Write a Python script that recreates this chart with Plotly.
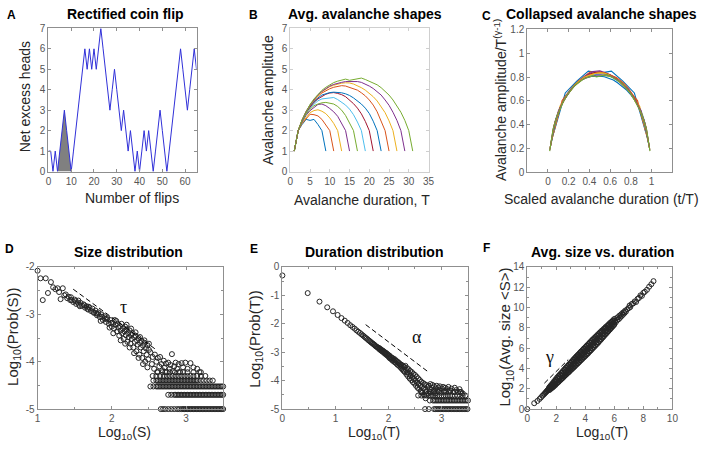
import plotly.graph_objects as go

# ---------------- data ----------------
# A: rectified coin flip
flip_number = list(range(66))
net_excess_heads = [1, 1, 0, 1, 0, 1, 2, 3, 2, 1, 0, 1, 2, 3, 4, 5, 6, 5, 6, 5, 6, 5, 6, 7, 6, 5,
                    4, 3, 4, 5, 4, 3, 2, 3, 2, 1, 2, 1, 0, 1, 0, 1, 2, 1, 2, 1, 0, 1, 2, 3, 2, 1,
                    0, 1, 2, 3, 4, 5, 6, 5, 4, 3, 4, 5, 6, 5]
shaded_start, shaded_end = 4, 10

# B: average avalanche shapes (amplitude at t = 1..T)
shape_T9 = [1, 2, 2.3, 2.55, 2.5, 2.55, 2.3, 2, 1]
shape_T11 = [1, 2, 2.35, 2.6, 2.8, 2.78, 2.72, 2.55, 2.3, 2, 1]
shape_T13 = [1, 2, 2.38, 2.66, 2.88, 2.98, 3.02, 2.95, 2.83, 2.62, 2.35, 2, 1]
shape_T15 = [1, 2, 2.42, 2.75, 2.98, 3.15, 3.28, 3.3, 3.22, 3.08, 2.92, 2.7, 2.38, 2, 1]
shape_T17 = [1, 2, 2.45, 2.8, 3.05, 3.22, 3.3, 3.36, 3.38, 3.35, 3.3, 3.18, 3.0, 2.74, 2.4, 2, 1]
shape_T19 = [1, 2, 2.48, 2.85, 3.12, 3.3, 3.46, 3.55, 3.58, 3.6, 3.62, 3.52, 3.4, 3.25, 3.05, 2.78,
             2.42, 2, 1]
shape_T21 = [1, 2, 2.5, 2.88, 3.15, 3.38, 3.55, 3.68, 3.78, 3.84, 3.86, 3.82, 3.76, 3.66, 3.5, 3.32,
             3.1, 2.82, 2.45, 2, 1]
shape_T23 = [1, 2, 2.5, 2.9, 3.2, 3.42, 3.6, 3.74, 3.82, 3.86, 3.88, 3.87, 3.85, 3.8, 3.72, 3.6,
             3.46, 3.3, 3.1, 2.84, 2.46, 2, 1]
shape_T25 = [1, 2, 2.52, 2.92, 3.22, 3.47, 3.68, 3.84, 3.96, 4.05, 4.12, 4.16, 4.2, 4.18, 4.12, 4.06,
             3.98, 3.85, 3.7, 3.5, 3.25, 2.92, 2.5, 2, 1]
shape_T27 = [1, 2, 2.52, 2.93, 3.25, 3.5, 3.72, 3.9, 4.04, 4.15, 4.22, 4.28, 4.32, 4.34, 4.33, 4.28,
             4.2, 4.1, 3.98, 3.84, 3.66, 3.45, 3.18, 2.88, 2.48, 2, 1]
shape_T29 = [1, 2, 2.52, 2.94, 3.26, 3.52, 3.75, 3.92, 4.06, 4.18, 4.26, 4.32, 4.36, 4.4, 4.41, 4.42,
             4.4, 4.36, 4.28, 4.18, 4.06, 3.92, 3.74, 3.5, 3.24, 2.9, 2.5, 2, 1]
shape_T31 = [1, 2, 2.54, 2.95, 3.28, 3.55, 3.78, 3.97, 4.12, 4.25, 4.35, 4.42, 4.48, 4.52, 4.46, 4.5,
             4.56, 4.57, 4.5, 4.42, 4.34, 4.24, 4.1, 3.94, 3.74, 3.5, 3.22, 2.9, 2.5, 2, 1]
avalanche_shapes = [shape_T9, shape_T11, shape_T13, shape_T15, shape_T17, shape_T19,
                    shape_T21, shape_T23, shape_T25, shape_T27, shape_T29, shape_T31]
gamma_exponent = 1.5  # C: collapse by T^(gamma-1)

# D: size distribution (log10 S, log10 P)
d_head = [(1.00, -2.08), (1.04, -2.24), (1.11, -2.24), (1.07, -2.70), (1.18, -2.32), (1.14, -2.55),
          (1.21, -2.43), (1.24, -2.47), (1.27, -2.45), (1.29, -2.53), (1.31, -2.68), (1.34, -2.45),
          (1.36, -2.60), (1.38, -2.58), (1.40, -2.66), (1.42, -2.63), (1.44, -2.70), (1.45, -2.64)]
d_band = [(1.46, -2.70), (1.48, -2.74), (1.50, -2.69), (1.51, -2.72), (1.52, -2.78), (1.54, -2.75),
          (1.55, -2.71), (1.56, -2.80), (1.57, -2.83), (1.58, -2.76), (1.60, -2.82), (1.62, -2.79),
          (1.63, -2.81), (1.64, -2.86), (1.66, -2.83), (1.67, -2.88), (1.68, -2.90), (1.69, -2.84),
          (1.70, -2.86), (1.72, -2.93), (1.74, -2.88), (1.75, -2.95), (1.76, -2.97), (1.78, -2.92),
          (1.79, -2.98), (1.80, -3.02), (1.81, -2.99), (1.82, -2.96), (1.84, -3.06), (1.85, -3.14),
          (1.86, -3.00), (1.87, -3.05), (1.88, -3.12), (1.90, -3.04), (1.91, -3.09), (1.92, -3.16),
          (1.93, -3.10), (1.94, -3.08), (1.96, -3.20), (1.97, -3.28), (1.98, -3.12), (1.99, -3.18),
          (2.00, -3.26), (2.01, -3.18), (2.02, -3.40), (2.03, -3.30), (2.04, -3.12), (2.05, -3.22),
          (2.06, -3.14), (2.07, -3.36), (2.08, -3.20), (2.09, -3.28), (2.10, -3.45), (2.11, -3.25),
          (2.12, -3.34), (2.12, -3.55), (2.13, -3.20), (2.14, -3.40), (2.15, -3.30), (2.16, -3.52),
          (2.17, -3.36), (2.18, -3.26), (2.18, -3.62), (2.19, -3.44), (2.20, -3.32), (2.20, -3.22),
          (2.21, -3.58), (2.22, -3.40), (2.23, -3.48), (2.24, -3.34), (2.24, -3.70), (2.25, -3.62),
          (2.26, -3.44), (2.26, -3.30), (2.27, -3.52), (2.28, -3.40), (2.29, -3.70), (2.30, -3.48),
          (2.30, -3.82), (2.31, -3.58), (2.32, -3.45), (2.32, -3.38), (2.33, -3.78), (2.34, -3.55),
          (2.35, -3.64), (2.36, -3.50), (2.36, -3.92), (2.37, -3.85), (2.38, -3.60), (2.38, -3.48),
          (2.39, -3.70), (2.40, -3.56), (2.41, -3.92), (2.42, -3.66), (2.42, -4.05), (2.43, -3.78),
          (2.44, -3.60), (2.44, -3.55), (2.45, -4.00), (2.46, -3.72), (2.47, -3.85), (2.48, -3.65),
          (2.48, -4.12), (2.49, -3.95), (2.50, -3.75), (2.50, -3.62)]
d_tail = [(2.52, -3.80), (2.54, -4.05), (2.55, -3.90), (2.57, -4.15), (2.58, -3.85), (2.60, -4.00),
          (2.61, -4.22), (2.62, -3.92), (2.64, -4.10), (2.65, -3.90), (2.67, -4.05), (2.68, -4.18),
          (2.70, -3.98), (2.71, -4.12), (2.73, -4.04), (2.74, -4.22), (2.76, -4.02), (2.78, -4.15),
          (2.79, -4.07), (2.81, -3.84), (2.82, -4.20), (2.84, -4.10), (2.86, -4.02), (2.88, -4.15),
          (2.90, -4.05), (2.92, -4.22), (2.94, -4.03), (2.96, -4.12), (2.99, -4.02), (3.02, -4.15),
          (3.06, -4.03), (3.10, -4.12), (3.15, -4.15), (3.18, -4.22)]
d_row_levels = [-4.222, -4.301, -4.398, -4.523, -4.699, -5.0]
d_row6_x = [2.62, 2.68, 2.72, 2.78, 2.85, 2.90, 2.96, 3.02, 3.10, 3.20]
d_row5_x = [2.55, 2.60, 2.65, 2.70, 2.74, 2.78, 2.82, 2.86, 2.90, 2.94, 2.98, 3.02, 3.06, 3.10,
            3.15, 3.20, 3.26]
d_row4_x = [2.56, 2.60, 2.62, 2.64, 2.66, 2.68, 2.70, 2.72, 2.74, 2.76, 2.78, 2.80, 2.82, 2.84,
            2.86, 2.88, 2.90, 2.92, 2.94, 2.96, 2.98, 3.00, 3.02, 3.04, 3.06, 3.08, 3.10, 3.12,
            3.14, 3.16, 3.20, 3.24, 3.28, 3.32, 3.36]
d_row3_x = [2.52, 2.56, 2.60, 2.62, 2.64, 2.66, 2.68, 2.70, 2.72, 2.74, 2.76, 2.78, 2.80, 2.82,
            2.84, 2.86, 2.88, 2.90, 2.92, 2.94, 2.96, 2.98, 3.00, 3.02, 3.04, 3.06, 3.08, 3.10,
            3.12, 3.14, 3.16, 3.18, 3.20, 3.22, 3.24, 3.26, 3.28, 3.30, 3.32, 3.34, 3.36, 3.38,
            3.40, 3.42, 3.44, 3.46, 3.48, 3.50]
d_row2_x = [2.76, 2.80, 2.84, 2.86, 2.88, 2.90, 2.92, 2.94, 2.96, 2.98, 3.00, 3.02, 3.04, 3.06,
            3.08, 3.10, 3.12, 3.14, 3.16, 3.18, 3.20, 3.22, 3.24, 3.26, 3.28, 3.30, 3.32, 3.34,
            3.36, 3.38, 3.40, 3.42, 3.44, 3.46, 3.48, 3.50]
d_row1_x = [2.66, 2.69, 2.72, 2.76, 2.80, 2.84, 2.88, 2.91, 2.94, 2.96, 2.98, 3.00, 3.02, 3.04,
            3.06, 3.08, 3.10, 3.12, 3.14, 3.16, 3.18, 3.20, 3.22, 3.24, 3.26, 3.28, 3.30, 3.32,
            3.34, 3.36, 3.38, 3.40, 3.42, 3.44, 3.46, 3.48, 3.50]
d_rows_x = [d_row6_x, d_row5_x, d_row4_x, d_row3_x, d_row2_x, d_row1_x]
d_fit = [(1.48, -2.47), (2.60, -3.75)]

# E: duration distribution (log10 T, log10 P)
e_head = [(0.000, -0.30), (0.477, -0.92), (0.699, -1.22), (0.845, -1.42), (0.954, -1.56),
          (1.041, -1.69), (1.114, -1.80), (1.176, -1.89), (1.230, -1.97), (1.279, -2.05),
          (1.322, -2.11), (1.362, -2.17), (1.398, -2.23), (1.431, -2.28), (1.462, -2.32),
          (1.491, -2.37), (1.519, -2.41), (1.544, -2.45), (1.568, -2.49), (1.591, -2.52),
          (1.613, -2.56), (1.633, -2.59), (1.653, -2.62), (1.672, -2.65), (1.690, -2.68),
          (1.708, -2.70), (1.724, -2.73), (1.740, -2.75), (1.756, -2.78), (1.771, -2.80),
          (1.785, -2.82), (1.799, -2.84)]
e_band = [(1.81, -2.84), (1.82, -2.88), (1.83, -2.86), (1.84, -2.91), (1.85, -2.89), (1.86, -2.94),
          (1.87, -2.92), (1.88, -2.97), (1.89, -2.94), (1.90, -2.99), (1.91, -2.97), (1.92, -3.03),
          (1.93, -3.00), (1.94, -3.06), (1.95, -3.02), (1.96, -3.09), (1.97, -3.05), (1.98, -3.12),
          (1.99, -3.08), (2.00, -3.14), (2.01, -3.18), (2.02, -3.12), (2.03, -3.22), (2.04, -3.16),
          (2.05, -3.19), (2.06, -3.26), (2.07, -3.20), (2.08, -3.30), (2.09, -3.22), (2.10, -3.28),
          (2.11, -3.34), (2.12, -3.25), (2.13, -3.36), (2.14, -3.30), (2.15, -3.40), (2.16, -3.32),
          (2.17, -3.44), (2.18, -3.35), (2.19, -3.46), (2.20, -3.38), (2.21, -3.50), (2.22, -3.42),
          (2.23, -3.54), (2.24, -3.44), (2.25, -3.58), (2.26, -3.46), (2.27, -3.62), (2.28, -3.50),
          (2.29, -3.66), (2.30, -3.52), (2.31, -3.70), (2.32, -3.48), (2.33, -3.62), (2.34, -3.78),
          (2.35, -3.56), (2.36, -3.70), (2.37, -3.85), (2.38, -3.60), (2.39, -3.76), (2.40, -3.92),
          (2.41, -3.66), (2.42, -3.82), (2.43, -3.98), (2.44, -3.70), (2.45, -3.88), (2.46, -4.05),
          (2.47, -3.76), (2.48, -3.94), (2.49, -4.10), (2.50, -3.80), (2.51, -4.00), (2.52, -4.18),
          (2.53, -3.86), (2.54, -4.06), (2.55, -4.25), (2.56, -3.92), (2.57, -4.12), (2.58, -4.30),
          (2.59, -3.98), (2.60, -4.18), (2.61, -4.36), (2.62, -4.04), (2.63, -4.22), (2.64, -4.42),
          (2.65, -4.08), (2.66, -4.28), (2.67, -4.50), (2.68, -4.12), (2.69, -4.32), (2.70, -4.62)]
e_tail = [(2.71, -4.15), (2.72, -4.38), (2.74, -4.22), (2.75, -4.45), (2.76, -4.18), (2.78, -4.30),
          (2.79, -4.12), (2.80, -4.40), (2.82, -4.25), (2.83, -4.15), (2.85, -4.35), (2.86, -4.20),
          (2.88, -4.45), (2.89, -4.28), (2.91, -4.18), (2.92, -4.38), (2.94, -4.24), (2.96, -4.32),
          (2.97, -4.20), (2.99, -4.42), (3.01, -4.28), (3.03, -4.22), (3.05, -4.35), (3.07, -4.25),
          (3.09, -4.40), (3.11, -4.30), (3.13, -4.22), (3.16, -4.35), (3.19, -4.28), (3.22, -4.40),
          (3.25, -4.25), (3.28, -4.33), (3.31, -4.40), (3.34, -4.30), (3.37, -4.40), (3.40, -4.45)]
e_row_levels = [-4.398, -4.523, -4.699, -5.0]
e_row4_x = [2.62, 2.70, 2.78, 2.86, 2.95, 3.05, 3.15, 3.25, 3.35]
e_row3_x = [2.56, 2.62, 2.68, 2.72, 2.76, 2.80, 2.84, 2.88, 2.92, 2.96, 3.00, 3.04, 3.08, 3.12,
            3.16, 3.20, 3.25, 3.30, 3.35, 3.40, 3.45]
e_row2_x = [2.78, 2.84, 2.87, 2.90, 2.93, 2.96, 2.99, 3.02, 3.05, 3.08, 3.11, 3.14, 3.17, 3.20,
            3.23, 3.26, 3.29, 3.32, 3.35, 3.38, 3.41, 3.44, 3.47, 3.50]
e_row1_x = [2.69, 2.76, 2.86, 2.89, 2.92, 2.95, 2.98, 3.01, 3.04, 3.07, 3.10, 3.13, 3.16, 3.19,
            3.22, 3.25, 3.28, 3.31, 3.34, 3.37, 3.40, 3.43, 3.46, 3.49]
e_rows_x = [e_row4_x, e_row3_x, e_row2_x, e_row1_x]
e_fit = [(1.57, -2.03), (2.77, -3.72)]

# F: average size vs duration (log10 T, log10 <S>)
f_head = [(0.00, 0.00), (0.48, 0.58), (0.70, 0.80), (0.85, 1.00), (0.95, 1.15), (1.04, 1.30),
          (1.11, 1.40), (1.18, 1.50), (1.23, 1.58), (1.28, 1.66), (1.32, 1.72), (1.36, 1.78),
          (1.40, 1.84), (1.43, 1.90), (1.46, 1.95), (1.49, 2.00)]
f_band_x = [1.5, 1.6, 1.7, 1.8, 1.9, 2.0, 2.1, 2.2, 2.3, 2.4, 2.5, 2.6, 2.7, 2.8, 2.9, 3.0, 3.1,
            3.2, 3.3, 3.4, 3.5, 3.6, 3.7, 3.8, 3.9, 4.0, 4.1, 4.2, 4.3, 4.4, 4.5, 4.6, 4.7, 4.8,
            4.9, 5.0, 5.1, 5.2, 5.3, 5.4, 5.5, 5.6, 5.7, 5.8, 5.9, 6.0]
f_band_low = [1.88, 2.05, 2.14, 2.28, 2.42, 2.52, 2.66, 2.80, 2.92, 3.06, 3.18, 3.32, 3.44, 3.58,
              3.70, 3.84, 3.98, 4.10, 4.25, 4.38, 4.52, 4.66, 4.80, 4.94, 5.08, 5.22, 5.36, 5.50,
              5.66, 5.80, 5.95, 6.10, 6.25, 6.40, 6.55, 6.72, 6.88, 7.04, 7.20, 7.36, 7.52, 7.68,
              7.84, 8.00, 8.16, 8.32]
f_band_high = [2.10, 2.24, 2.40, 2.56, 2.72, 2.88, 3.05, 3.22, 3.38, 3.55, 3.72, 3.88, 4.05, 4.22,
               4.38, 4.55, 4.72, 4.88, 5.04, 5.20, 5.35, 5.50, 5.66, 5.80, 5.96, 6.10, 6.25, 6.40,
               6.55, 6.70, 6.85, 6.98, 7.12, 7.26, 7.40, 7.54, 7.68, 7.80, 7.94, 8.08, 8.20, 8.34,
               8.48, 8.60, 8.74, 8.88]
f_mid_x = [1.55, 1.65, 1.75, 1.85, 1.95, 2.05, 2.15, 2.25, 2.35, 2.45, 2.55, 2.65, 2.75, 2.85,
           2.95, 3.05, 3.15, 3.25, 3.35, 3.45, 3.55, 3.65, 3.75, 3.85, 3.95, 4.05, 4.15, 4.25,
           4.35, 4.45, 4.55, 4.65, 4.75, 4.85, 4.95, 5.05, 5.15, 5.25, 5.35, 5.45, 5.55, 5.65,
           5.75, 5.85, 5.95]
f_mid_y = [2.07, 2.22, 2.37, 2.51, 2.66, 2.81, 2.95, 3.10, 3.25, 3.39, 3.54, 3.69, 3.83, 3.98,
           4.13, 4.27, 4.42, 4.57, 4.71, 4.86, 5.01, 5.15, 5.30, 5.45, 5.59, 5.74, 5.89, 6.03,
           6.18, 6.32, 6.47, 6.62, 6.76, 6.91, 7.06, 7.20, 7.35, 7.50, 7.64, 7.79, 7.94, 8.08,
           8.23, 8.38, 8.52]
f_mid_low = [1.90, 2.02, 2.12, 2.25, 2.38, 2.54, 2.66, 2.80, 2.94, 3.06, 3.22, 3.36, 3.50, 3.62,
             3.78, 3.92, 4.06, 4.20, 4.36, 4.50, 4.64, 4.80, 4.94, 5.08, 5.22, 5.38, 5.52, 5.68,
             5.82, 5.98, 6.14, 6.28, 6.44, 6.58, 6.74, 6.90, 7.04, 7.20, 7.36, 7.50, 7.66, 7.82,
             7.98, 8.12, 8.28]
f_mid_high = [2.20, 2.38, 2.55, 2.74, 2.92, 3.10, 3.26, 3.42, 3.58, 3.74, 3.90, 4.06, 4.22, 4.36,
              4.52, 4.66, 4.82, 4.97, 5.12, 5.26, 5.40, 5.56, 5.70, 5.84, 5.98, 6.12, 6.26, 6.40,
              6.54, 6.68, 6.82, 6.96, 7.08, 7.22, 7.36, 7.50, 7.62, 7.76, 7.90, 8.02, 8.16, 8.30,
              8.44, 8.58, 8.70]
f_tail = [(6.05, 8.70), (6.10, 8.55), (6.15, 8.95), (6.20, 8.75), (6.25, 9.05), (6.30, 8.85),
          (6.35, 9.20), (6.40, 9.00), (6.45, 9.30), (6.50, 9.15), (6.55, 9.45), (6.60, 9.30),
          (6.65, 9.55), (6.70, 9.45), (6.75, 9.70), (6.80, 9.60), (6.90, 9.85), (7.00, 9.95),
          (7.05, 10.20), (7.10, 10.05), (7.20, 10.35), (7.30, 10.40), (7.40, 10.60), (7.50, 10.55),
          (7.60, 10.85), (7.70, 10.95), (7.80, 11.20), (7.90, 11.15), (8.00, 11.45), (8.10, 11.55),
          (8.25, 11.75), (8.40, 12.05), (8.55, 12.30), (8.70, 12.60)]
f_fit = [(1.18, 2.55), (2.82, 4.87)]

# ---------------- figure ----------------
W, H = 708, 455
SANS = "Liberation Sans, Arial, Helvetica, sans-serif"
SERIF = "Liberation Serif, Times New Roman, serif"
LINE_COLORS = ['#0072BD', '#D95319', '#EDB120', '#7E2F8E', '#77AC30', '#4DBEEE', '#A2142F']
MARK = dict(symbol='circle-open', size=5, color='#262626', line=dict(width=1))


def px(v):
    return v / W


def py(v):
    return 1 - v / H


fig = go.Figure()

# --- A ---
fig.add_trace(go.Scatter(x=flip_number[shaded_start:shaded_end + 1],
                         y=net_excess_heads[shaded_start:shaded_end + 1],
                         mode='lines', fill='toself', fillcolor='#808080',
                         line=dict(color='#808080', width=0), xaxis='x', yaxis='y'))
fig.add_trace(go.Scatter(x=flip_number, y=net_excess_heads, mode='lines',
                         line=dict(color='#3030d8', width=1), xaxis='x', yaxis='y'))

# --- B and C ---
for i, shape in enumerate(avalanche_shapes):
    T = len(shape)
    t = list(range(1, T + 1))
    col = LINE_COLORS[i % len(LINE_COLORS)]
    fig.add_trace(go.Scatter(x=t, y=shape, mode='lines', line=dict(color=col, width=1),
                             xaxis='x2', yaxis='y2'))
    fig.add_trace(go.Scatter(x=[(k - 0.5) / T for k in t],
                             y=[a / T ** (gamma_exponent - 1) for a in shape],
                             mode='lines', line=dict(color=col, width=1.1),
                             xaxis='x3', yaxis='y3'))


def scatter_points(groups, rows, levels, xa, ya):
    xs, ys = [], []
    for g in groups:
        xs += [p[0] for p in g]
        ys += [p[1] for p in g]
    for rx, lv in zip(rows, levels):
        xs += rx
        ys += [lv] * len(rx)
    fig.add_trace(go.Scatter(x=xs, y=ys, mode='markers', marker=MARK, cliponaxis=False,
                             xaxis=xa, yaxis=ya))


def fit_line(seg, xa, ya):
    fig.add_trace(go.Scatter(x=[p[0] for p in seg], y=[p[1] for p in seg], mode='lines',
                             line=dict(color='black', width=1, dash='5px,3px'),
                             xaxis=xa, yaxis=ya))


# --- D ---
scatter_points([d_head, d_band, d_tail], d_rows_x, d_row_levels, 'x4', 'y4')
fit_line(d_fit, 'x4', 'y4')
# --- E ---
scatter_points([e_head, e_band, e_tail], e_rows_x, e_row_levels, 'x5', 'y5')
fit_line(e_fit, 'x5', 'y5')
# --- F ---
f_groups = [f_head,
            list(zip(f_band_x, f_band_low)), list(zip(f_band_x, f_band_high)),
            list(zip(f_mid_x, f_mid_y)), list(zip(f_mid_x, f_mid_low)),
            list(zip(f_mid_x, f_mid_high)), f_tail]
scatter_points(f_groups, [], [], 'x6', 'y6')
fit_line(f_fit, 'x6', 'y6')


def axis(dom, rng, vals, anchor, texts=None, minor_vals=None, lc='#8f8f8f'):
    a = dict(domain=dom, range=rng, tickmode='array', tickvals=vals,
             ticktext=texts if texts is not None else [('%g' % v) for v in vals],
             anchor=anchor, showline=True, linecolor=lc, linewidth=1, mirror='ticks',
             ticks='inside', ticklen=3, tickcolor=lc,
             tickfont=dict(family=SANS, size=10, color='#555555'),
             showgrid=False, zeroline=False, fixedrange=True)
    if minor_vals:
        a['minor'] = dict(tickmode='array', tickvals=minor_vals, ticks='inside', ticklen=2,
                          tickcolor=lc, showgrid=False)
    return a


def hx(a, b):
    return [px(a), px(b)]


def vy(top, bottom):
    return [py(bottom), py(top)]


TOP = vy(23, 170)
BOT = vy(268, 414)

layout_axes = dict(
    xaxis=axis(hx(46, 196), [0, 65], [0, 10, 20, 30, 40, 50, 60], 'y'),
    yaxis=axis(TOP, [0, 7], list(range(8)), 'x'),
    xaxis2=axis(hx(291, 431), [0, 35], [0, 5, 10, 15, 20, 25, 30, 35], 'y2', lc='#cfcfcf'),
    yaxis2=axis(TOP, [0, 7], list(range(8)), 'x2', lc='#cfcfcf'),
    xaxis3=axis(hx(531, 678), [-0.2, 1.2], [0, 0.2, 0.4, 0.6, 0.8, 1], 'y3'),
    yaxis3=axis(vy(24, 171), [0, 1.2], [0, 0.2, 0.4, 0.6, 0.8, 1, 1.2], 'x3'),
    xaxis4=axis(hx(35, 223), [1, 3.5], [1, 2, 3], 'y4', minor_vals=[1.5, 2.5]),
    yaxis4=axis(BOT, [-5, -2], [-5, -4, -3, -2], 'x4', minor_vals=[-4.5, -3.5, -2.5]),
    xaxis5=axis(hx(283, 471), [0, 3.5], [0, 1, 2, 3], 'y5', minor_vals=[0.5, 1.5, 2.5]),
    yaxis5=axis(BOT, [-5, 0], [-5, -4, -3, -2, -1, 0], 'x5',
                minor_vals=[-4.5, -3.5, -2.5, -1.5, -0.5]),
    xaxis6=axis(hx(531, 678), [0, 10], [0, 2, 4, 6, 8, 10], 'y6', minor_vals=[1, 3, 5, 7, 9]),
    yaxis6=axis(BOT, [0, 14], [0, 2, 4, 6, 8, 10, 12, 14], 'x6',
                minor_vals=[1, 3, 5, 7, 9, 11, 13]),
)

annotations = []


def note(text, x, y, size, color='#262626', angle=0, anchor='center', family=SANS):
    annotations.append(dict(text=text, x=px(x), y=py(y), xref='paper', yref='paper',
                            xanchor=anchor, yanchor='middle', showarrow=False,
                            textangle=angle, font=dict(family=family, size=size, color=color)))


def data_note(text, x, y, xr, yr, size=18):
    annotations.append(dict(text=text, x=x, y=y, xref=xr, yref=yr, showarrow=False,
                            xanchor='center', yanchor='middle',
                            font=dict(family=SERIF, size=size, color='#111111')))


# titles
for txt, x, y in [("Rectified coin flip", 124, 8), ("Avg. avalanche shapes", 367, 8),
                  ("Size distribution", 127, 253), ("Duration distribution", 376, 253),
                  ("Avg. size vs. duration", 607, 253)]:
    note("<b>%s</b>" % txt, x, y, 14, '#000000')
note("<b>Collapsed avalanche shapes</b>", 705, 8, 14, '#000000', anchor='right')
# panel letters
for txt, x, y in [("A", 9, 9), ("B", 254, 9), ("C", 490, 10), ("D", 7, 250), ("E", 254, 250),
                  ("F", 490, 249)]:
    note("<b>%s</b>" % txt, x, y, 12, '#000000')
# axis titles
note("Number of flips", 131, 197, 14)
note("Net excess heads", 22, 93, 14, angle=-90)
note("Avalanche duration, T", 364, 199, 14)
note("Avalanche amplitude", 269, 97, 14, angle=-90)
note("Scaled avalanche duration (t/T)", 707, 198, 14, anchor='right')
note("Avalanche amplitude/T<sup>(γ-1)</sup>", 504, 97, 14, angle=-90)
note("Log<sub>10</sub>(S)", 123, 439, 14)
note("Log<sub>10</sub>(Prob(S))", 10, 340, 15, angle=-90)
note("Log<sub>10</sub>(T)", 376, 439, 14)
note("Log<sub>10</sub>(Prob(T))", 256, 342, 15, angle=-90)
note("Log<sub>10</sub>(T)", 607, 439, 14)
note("Log<sub>10</sub>(Avg. size &lt;S&gt;)", 509, 340, 15, angle=-90)
# exponent labels
data_note("τ", 2.16, -2.85, 'x4', 'y4')
data_note("α", 2.53, -2.47, 'x5', 'y5')
data_note("γ", 1.54, 5.16, 'x6', 'y6')

fig.update_layout(width=W, height=H, margin=dict(l=0, r=0, t=0, b=0),
                  paper_bgcolor='white', plot_bgcolor='white', showlegend=False,
                  annotations=annotations, **layout_axes)

fig.write_html("out.html", config={'displayModeBar': False},
               post_script="document.body.style.margin='0px';")
